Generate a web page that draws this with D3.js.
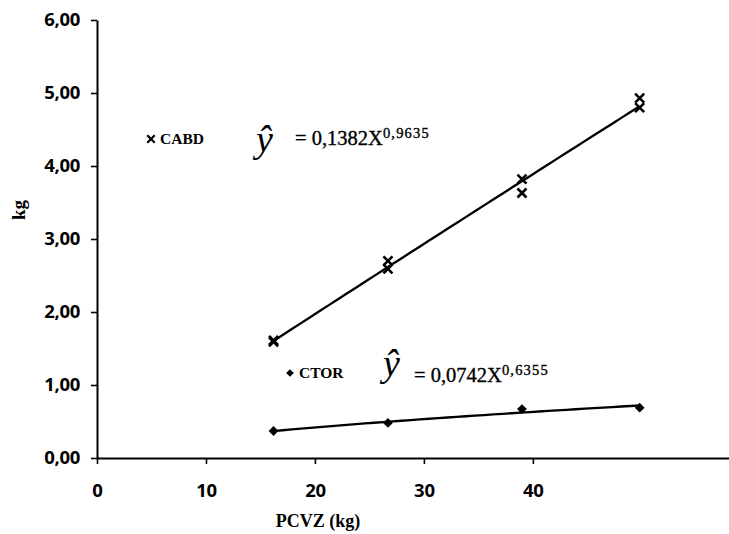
<!DOCTYPE html>
<html>
<head>
<meta charset="utf-8">
<script src="https://cdn.jsdelivr.net/npm/d3@7"></script>
<style>
  html, body { margin: 0; padding: 0; background: #fff; }
  svg { display: block; }
</style>
</head>
<body>
<div id="chart"></div>
<script>
// values (x on the printed axis, y in kg)
const xTicks = [0, 10, 20, 30, 40];
const yTicks = [0, 1, 2, 3, 4, 5, 6];

const cabdX = [16.2, 16.2, 26.7, 26.7, 39.0, 39.0, 49.8, 49.8];
const cabdY = [1.61, 1.59, 2.70, 2.59, 3.82, 3.63, 4.93, 4.80];

const ctorX = [16.2, 26.7, 39.0, 49.8];
const ctorY = [0.37, 0.48, 0.67, 0.69];

const cabdLabel = "CABD";
const ctorLabel = "CTOR";
const cabdEq = ["= 0,1382X", "0,9635"];
const ctorEq = ["= 0,0742X", "0,6355"];

const width = 729, height = 534;
const plot = { left: 97, right: 729, top: 20, bottom: 458 };

const svg = d3.select("#chart").append("svg")
    .attr("width", width)
    .attr("height", height);

const x = d3.scaleLinear().domain([0, 58]).range([plot.left, plot.right]);
const y = d3.scaleLinear().domain([0, 6]).range([plot.bottom, plot.top]);

const comma = v => d3.format(".2f")(v).replace(".", ",");
const tickFont = "'Open Sans', 'DejaVu Sans', sans-serif";
const serif = "'Liberation Serif', 'Times New Roman', serif";

// axes
const xAxis = svg.append("g")
    .attr("transform", `translate(0, ${plot.bottom})`)
    .call(d3.axisBottom(x).tickValues(xTicks).tickSize(6).tickSizeOuter(0));
xAxis.selectAll(".tick text").attr("y", 39).attr("dy", 0);

const yAxis = svg.append("g")
    .attr("transform", `translate(${plot.left}, 0)`)
    .call(d3.axisLeft(y).tickValues(yTicks).tickFormat(comma).tickSize(6).tickPadding(11).tickSizeOuter(0));

for (let g of [xAxis, yAxis]) {
    g.select(".domain").attr("stroke", "#000").attr("stroke-width", 2);
    g.selectAll(".tick line").attr("stroke", "#000").attr("stroke-width", 1.6);
    g.selectAll(".tick text")
        .attr("fill", "#000")
        .attr("font-family", tickFont)
        .attr("font-weight", "bold")
        .attr("font-size", 18.5)
        .attr("letter-spacing", -0.3);
}

// axis titles
svg.append("text")
    .attr("x", 318).attr("y", 527)
    .attr("text-anchor", "middle")
    .attr("font-family", serif)
    .attr("font-weight", "bold")
    .attr("font-size", 18)
    .text("PCVZ (kg)");
svg.append("text")
    .attr("transform", "translate(25, 210) rotate(-90)")
    .attr("text-anchor", "middle")
    .attr("font-family", serif)
    .attr("font-weight", "bold")
    .attr("font-size", 19)
    .text("kg");

// power trend (least squares on logs)
function powerFit(xs, ys) {
    const lx = xs.map(Math.log), ly = ys.map(Math.log);
    const mx = d3.mean(lx), my = d3.mean(ly);
    const b = d3.sum(lx, (v, i) => (v - mx) * (ly[i] - my)) / d3.sum(lx, v => (v - mx) ** 2);
    const a = Math.exp(my - b * mx);
    return v => a * Math.pow(v, b);
}

function drawTrend(xs, ys) {
    const f = powerFit(xs, ys);
    const [x0, x1] = d3.extent(xs);
    const steps = d3.range(0, 41).map(i => x0 + (x1 - x0) * i / 40);
    svg.append("path")
        .datum(steps)
        .attr("fill", "none")
        .attr("stroke", "#000")
        .attr("stroke-width", 2.3)
        .attr("d", d3.line().x(d => x(d)).y(d => y(f(d))));
}

drawTrend(cabdX, cabdY);
drawTrend(ctorX, ctorY);

// markers
const cross = d3.symbol(d3.symbolTimes).size(55);
const diamond = d3.symbol(d3.symbolSquare).size(48);

svg.append("g").selectAll("path")
    .data(cabdX.map((v, i) => [v, cabdY[i]]))
    .join("path")
    .attr("transform", d => `translate(${x(d[0])}, ${y(d[1])})`)
    .attr("d", cross)
    .attr("fill", "none")
    .attr("stroke", "#000")
    .attr("stroke-width", 2.6);

svg.append("g").selectAll("path")
    .data(ctorX.map((v, i) => [v, ctorY[i]]))
    .join("path")
    .attr("transform", d => `translate(${x(d[0])}, ${y(d[1])}) rotate(45)`)
    .attr("d", diamond)
    .attr("fill", "#000");

// legend entries and equations
function legendEntry(isCross, px, py, label, eq, eqX, eqGap, eqBase, hatDy) {
    const mark = svg.append("path")
        .attr("transform", `translate(${px}, ${py - 5})` + (isCross ? "" : " rotate(45)"));
    if (isCross) {
        mark.attr("d", d3.symbol(d3.symbolTimes).size(38))
            .attr("fill", "none")
            .attr("stroke", "#000")
            .attr("stroke-width", 2.2);
    } else {
        mark.attr("d", d3.symbol(d3.symbolSquare).size(30))
            .attr("fill", "#000");
    }
    svg.append("text")
        .attr("x", px + 9).attr("y", py)
        .attr("font-family", serif)
        .attr("font-weight", "bold")
        .attr("font-size", 15.5)
        .text(label);
    svg.append("text")
        .attr("x", eqX).attr("y", eqBase + hatDy)
        .attr("font-family", serif)
        .attr("font-style", "italic")
        .attr("font-size", 38)
        .text("\u0177");
    const t = svg.append("text")
        .attr("x", eqX + eqGap).attr("y", eqBase)
        .attr("font-family", serif)
        .attr("font-size", 20.5)
        .attr("stroke", "#000")
        .attr("stroke-width", 0.35);
    t.append("tspan").text(eq[0]);
    t.append("tspan")
        .attr("dy", -7)
        .attr("font-size", 14.5)
        .attr("letter-spacing", 1.2)
        .text(eq[1]);
}

legendEntry(true, 151, 144, cabdLabel, cabdEq, 256, 39, 145, 7);
legendEntry(false, 290, 378, ctorLabel, ctorEq, 383, 31, 382, -6);
</script>
</body>
</html>
